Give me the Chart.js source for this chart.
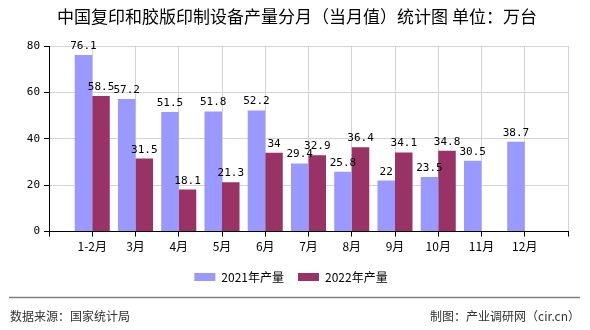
<!DOCTYPE html>
<html lang="zh-CN">
<head>
  <meta charset="UTF-8">
  <title>中国复印和胶版印制设备产量分月（当月值）统计图</title>
  <style>
    body {
      margin: 0;
      padding: 0;
      background-color: #fff;
    }
    canvas {
      display: block;
    }
  </style>
</head>
<body>
  <canvas id="chart" width="590" height="330"></canvas>

  <script src="https://cdn.jsdelivr.net/npm/chart.js"></script>
  <script>
    // data
    const months = ['1-2月', '3月', '4月', '5月', '6月', '7月', '8月', '9月', '10月', '11月', '12月'];
    const output2021 = [76.1, 57.2, 51.5, 51.8, 52.2, 29.4, 25.8, 22, 23.5, 30.5, 38.7];
    const output2022 = [58.5, 31.5, 18.1, 21.3, 34, 32.9, 36.4, 34.1, 34.8, null, null];
    const yTicks = [0, 20, 40, 60, 80];

    const titleText = '中国复印和胶版印制设备产量分月（当月值）统计图 单位：万台';
    const sourceText = '数据来源：国家统计局';
    const creditText = '制图：产业调研网（cir.cn）';

    // empty slot at both ends so the months sit on the grid lines
    const labels = [''].concat(months, ['']);
    const pad = arr => [null].concat(arr, [null]);

    // value labels above bars
    const valueLabels = {
      id: 'valueLabels',
      afterDatasetsDraw(chart) {
        const ctx = chart.ctx;
        ctx.save();
        ctx.font = '11px "DejaVu Sans Mono", monospace';
        ctx.fillStyle = '#000';
        ctx.textAlign = 'center';
        ctx.textBaseline = 'alphabetic';
        chart.data.datasets.forEach((ds, i) => {
          const meta = chart.getDatasetMeta(i);
          meta.data.forEach((bar, j) => {
            const v = ds.data[j];
            if (v === null || v === undefined) return;
            ctx.fillText(String(v), bar.x, bar.y - 6);
          });
        });
        ctx.restore();
      }
    };

    // title + footer
    const frame = {
      id: 'frame',
      afterDraw(chart) {
        const ctx = chart.ctx;
        ctx.save();
        ctx.fillStyle = '#000';
        ctx.font = '17px "Noto Sans CJK SC", sans-serif';
        ctx.textAlign = 'center';
        ctx.textBaseline = 'middle';
        ctx.fillText(titleText, 297, 17);

        ctx.strokeStyle = '#808080';
        ctx.lineWidth = 1.5;
        ctx.beginPath();
        ctx.moveTo(9, 297.5);
        ctx.lineTo(580, 297.5);
        ctx.stroke();

        ctx.fillStyle = '#333';
        ctx.font = '12px "Noto Sans CJK SC", sans-serif';
        ctx.textAlign = 'left';
        ctx.fillText(sourceText, 10, 316);
        ctx.textAlign = 'right';
        ctx.fillText(creditText, 580, 316);
        ctx.restore();
      }
    };

    const ctx = document.getElementById('chart').getContext('2d');
    const chart = new Chart(ctx, {
      type: 'bar',
      data: {
        labels: labels,
        datasets: [{
          label: '2021年产量',
          data: pad(output2021),
          backgroundColor: '#9999FF',
          categoryPercentage: 0.81,
          barPercentage: 1
        }, {
          label: '2022年产量',
          data: pad(output2022),
          backgroundColor: '#993366',
          categoryPercentage: 0.81,
          barPercentage: 1
        }]
      },
      options: {
        responsive: false,
        animation: false,
        devicePixelRatio: 1,
        layout: {
          padding: { top: 46, left: 14, right: 22, bottom: 37 }
        },
        plugins: {
          legend: {
            position: 'bottom',
            labels: {
              boxWidth: 21,
              boxHeight: 8,
              padding: 14,
              color: '#000',
              font: { family: '"Noto Sans CJK SC", sans-serif', size: 12 }
            }
          },
          tooltip: { enabled: false }
        },
        scales: {
          x: {
            offset: false,
            grid: {
              offset: false,
              color: '#d3d3d3',
              tickColor: '#000',
              tickLength: 5
            },
            border: { color: '#000', width: 1 },
            ticks: {
              autoSkip: false,
              maxRotation: 0,
              color: '#000',
              padding: 3,
              font: { family: '"Noto Sans CJK SC", sans-serif', size: 12 }
            }
          },
          y: {
            min: yTicks[0],
            max: yTicks[yTicks.length - 1],
            afterBuildTicks(scale) {
              scale.ticks = yTicks.map(v => ({ value: v }));
            },
            afterFit(scale) {
              scale.width = 35;
            },
            grid: {
              color: '#d3d3d3',
              tickColor: '#000',
              tickLength: 5
            },
            border: { color: '#000', width: 1 },
            ticks: {
              color: '#000',
              padding: 4,
              font: { family: '"DejaVu Sans Mono", monospace', size: 11 }
            }
          }
        }
      },
      plugins: [valueLabels, frame]
    });
  </script>
</body>
</html>
